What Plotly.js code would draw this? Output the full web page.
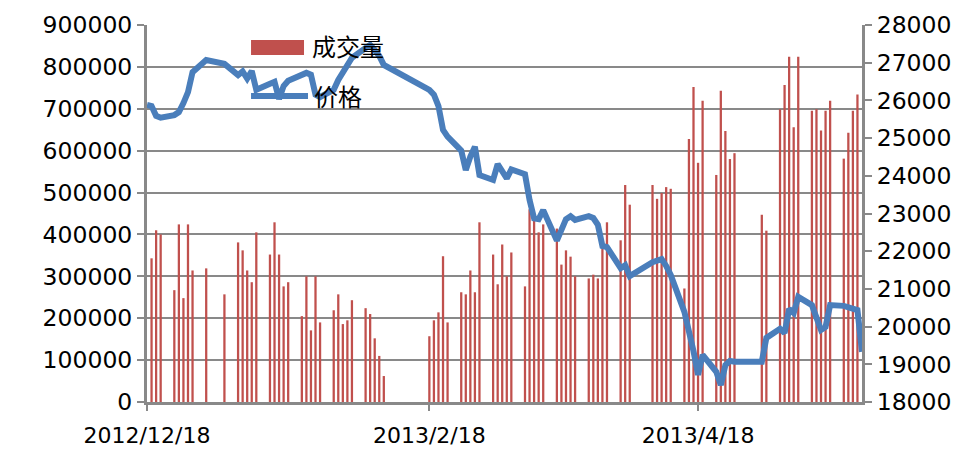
<!DOCTYPE html>
<html><head><meta charset="utf-8">
<script src="https://cdn.plot.ly/plotly-3.0.1.min.js"></script>
<style>html,body{margin:0;padding:0;background:#fff}#chart{width:959px;height:452px}</style>
</head><body><div id="chart"></div>
<script>
const dates = [
'2012-12-18','2012-12-19','2012-12-20','2012-12-21','2012-12-24','2012-12-25','2012-12-26','2012-12-27','2012-12-28','2012-12-31',
'2013-01-04','2013-01-07','2013-01-08','2013-01-09','2013-01-10','2013-01-11',
'2013-01-14','2013-01-15','2013-01-16','2013-01-17','2013-01-18',
'2013-01-21','2013-01-22','2013-01-23','2013-01-24','2013-01-25',
'2013-01-28','2013-01-29','2013-01-30','2013-01-31','2013-02-01',
'2013-02-04','2013-02-05','2013-02-06','2013-02-07','2013-02-08',
'2013-02-18','2013-02-19','2013-02-20','2013-02-21','2013-02-22',
'2013-02-25','2013-02-26','2013-02-27','2013-02-28','2013-03-01',
'2013-03-04','2013-03-05','2013-03-06','2013-03-07','2013-03-08',
'2013-03-11','2013-03-12','2013-03-13','2013-03-14','2013-03-15',
'2013-03-18','2013-03-19','2013-03-20','2013-03-21','2013-03-22',
'2013-03-25','2013-03-26','2013-03-27','2013-03-28','2013-03-29',
'2013-04-01','2013-04-02','2013-04-03',
'2013-04-08','2013-04-09','2013-04-10','2013-04-11','2013-04-12',
'2013-04-15','2013-04-16','2013-04-17','2013-04-18','2013-04-19',
'2013-04-22','2013-04-23','2013-04-24','2013-04-25','2013-04-26',
'2013-05-02','2013-05-03',
'2013-05-06','2013-05-07','2013-05-08','2013-05-09','2013-05-10',
'2013-05-13','2013-05-14','2013-05-15','2013-05-16','2013-05-17',
'2013-05-20','2013-05-21','2013-05-22','2013-05-23','2013-05-24'];

const volume = [
null,343000,410000,400000,267000,424000,248000,424000,314000,319000,
257000,381000,362000,314000,286000,405000,
352000,429000,352000,276000,286000,
205000,300000,171000,300000,190000,
219000,257000,186000,195000,243000,
224000,210000,152000,110000,62000,
157000,195000,214000,348000,190000,
262000,257000,314000,262000,429000,
352000,281000,376000,300000,357000,
276000,460000,438000,405000,424000,
414000,328000,362000,347000,300000,
295000,304000,295000,376000,429000,
386000,518000,471000,
518000,485000,499000,513000,509000,
271000,628000,752000,571000,719000,
542000,743000,647000,580000,594000,
447000,409000,
699000,757000,824000,656000,824000,
695000,699000,648000,695000,719000,
581000,643000,695000,734000,null];

const price = [
25880,25850,25590,25540,25610,25690,25930,26220,26750,27070,
26970,26670,26770,26580,26780,26280,
26440,26490,26040,26380,26520,
26650,26730,26680,26150,26090,
26280,26540,26750,26970,27130,
27390,27470,27340,27180,26940,
26280,26150,25850,25220,25040,
24670,24150,24510,24770,24020,
23890,24310,24110,23930,24170,
24040,23360,22870,22850,23090,
22280,22530,22850,22930,22830,
22930,22880,22700,22140,22110,
21550,21630,21340,
21710,21770,21790,21610,21370,
20390,19910,19350,18720,19250,
18800,18450,18980,19090,19070,
19070,19700,
19940,19830,20470,20360,20790,
20570,20280,19910,19990,20570,
20550,20520,20490,20440,19330];

const tickDates = ['2012-12-18','2013-02-18','2013-04-18'];
const tickLabels = ['2012/12/18','2013/2/18','2013/4/18'];
const xRange = ['2012-12-18','2013-05-24'];
const seriesNames = ['成交量','价格'];

const RED = '#C0504D', BLUE = '#4A7EBB', GRID = '#898989';
const tickFont = {family: 'DejaVu Sans, Liberation Sans, sans-serif', size: 23.5, color: '#000'};
const xTickFont = {family: 'DejaVu Sans, Liberation Sans, sans-serif', size: 22, color: '#000'};

const traces = [
  {type: 'bar', x: dates, y: volume, name: seriesNames[0], yaxis: 'y',
   marker: {color: RED, line: {width: 0}}, width: 0.5 * 86400000},
  {type: 'scatter', mode: 'lines', x: dates, y: price, name: seriesNames[1], yaxis: 'y2',
   line: {color: BLUE, width: 6}}
];

const layout = {
  width: 959, height: 452,
  margin: {l: 147, r: 97, t: 25, b: 50, pad: 0},
  paper_bgcolor: '#fff', plot_bgcolor: '#fff',
  showlegend: false,
  xaxis: {type: 'date', range: xRange, tickmode: 'array', tickvals: tickDates, ticktext: tickLabels,
          showgrid: false, showline: true, linecolor: GRID, linewidth: 3,
          ticks: 'outside', ticklen: 6, tickwidth: 2, tickcolor: GRID,
          ticklabelstandoff: 6, tickfont: xTickFont, zeroline: false},
  yaxis: {range: [0, 900000], dtick: 100000, tickformat: 'd', showgrid: true, gridcolor: GRID, gridwidth: 2,
          showline: true, linecolor: GRID, linewidth: 3, ticks: 'outside', ticklen: 7, tickwidth: 2, tickcolor: GRID,
          tickfont: tickFont, zeroline: false},
  yaxis2: {range: [18000, 28000], dtick: 1000, tickformat: 'd', overlaying: 'y', side: 'right', showgrid: false,
           showline: true, linecolor: GRID, linewidth: 3, ticks: 'outside', ticklen: 7, tickwidth: 2, tickcolor: GRID,
           tickfont: tickFont, zeroline: false},
  shapes: [
    {type: 'rect', xref: 'paper', yref: 'paper', x0: 0.1455, x1: 0.2196, y0: 0.9204, y1: 0.9602,
     fillcolor: RED, line: {width: 0}, layer: 'above'},
    {type: 'line', xref: 'paper', yref: 'paper', x0: 0.1455, x1: 0.2252, y0: 0.8117, y1: 0.8117,
     line: {color: BLUE, width: 6}, layer: 'above'}
  ],
  annotations: [
    {xref: 'paper', yref: 'paper', x: 0.228, y: 0.9443, xanchor: 'left', yanchor: 'middle', showarrow: false,
     text: seriesNames[0], font: {family: 'Noto Sans CJK SC', size: 24, color: '#000'}},
    {xref: 'paper', yref: 'paper', x: 0.2308, y: 0.8143, xanchor: 'left', yanchor: 'middle', showarrow: false,
     text: seriesNames[1], font: {family: 'Noto Sans CJK SC', size: 24, color: '#000'}}
  ]
};

Plotly.newPlot('chart', traces, layout, {displayModeBar: false, staticPlot: true});
</script>
</body></html>
